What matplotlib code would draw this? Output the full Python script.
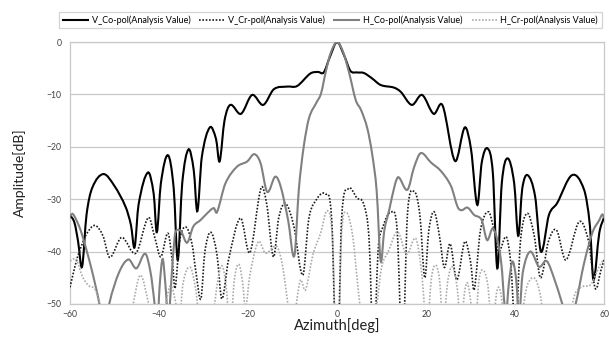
import numpy as np
import matplotlib
matplotlib.use("Agg")
import matplotlib.pyplot as plt
from matplotlib.path import Path
from matplotlib.patches import PathPatch
from matplotlib.lines import Line2D

plt.rcParams['font.family'] = ['Lato', 'DejaVu Sans']

# ---------------- data ----------------
v_co_az = [-60, -59, -58.2, -57.3, -56.3, -55.0, -52.5, -50.0, -47.5, -46.3, -45.5, -44.6, -42.5, -41.2,
           -40.5, -39.6, -38.0, -36.7, -35.8, -34.8, -33.4, -32.2, -31.4, -30.4, -28.6, -27.2, -26.4,
           -25.3, -24.0, -21.6, -19.1, -16.6, -14.2, -11.2, -9.0, -6.0, -4.3, -3.0, -1.6, 0, 1.6, 3.0,
           4.5, 6.0, 7.8, 9.8, 12.8, 14.3, 16.8, 19.1, 21.7, 23.7, 26.5, 28.7, 30.1, 31.5, 32.5, 33.8,
           35.0, 36.0, 37.0, 38.3, 39.8, 40.7, 41.6, 42.8, 44.5, 45.8, 47.6, 49.4, 52.8, 55.5, 56.8,
           57.6, 58.9, 60]
v_co_db = [-33.0, -34.5, -38.0, -42.9, -33.0, -27.8, -25.2, -27.5, -31.5, -35.0, -39.2, -31.0, -24.9, -29.0,
           -36.3, -27.0, -21.6, -28.0, -41.6, -27.0, -20.5, -24.5, -32.3, -22.0, -16.3, -18.5, -22.8,
           -15.0, -12.0, -13.7, -10.1, -12.0, -9.0, -8.5, -8.4, -6.0, -5.7, -5.8, -2.8, 0.0, -2.6, -5.5,
           -5.8, -5.9, -6.9, -8.2, -8.7, -9.5, -12.0, -10.1, -13.7, -12.1, -22.7, -16.3, -20.5, -31.1,
           -23.0, -20.3, -25.0, -43.2, -27.0, -22.2, -27.0, -37.0, -28.0, -25.4, -29.5, -40.0, -33.0,
           -30.8, -25.4, -28.2, -35.0, -45.4, -36.5, -33.4]

v_cr_az = [-60, -58.8, -57.9, -56.4, -54.4, -52.6, -51.1, -48.4, -45.2, -42.4, -40.9, -39.6, -38.0, -37.0,
           -36.4, -35.4, -34.0, -32.6, -31.7, -30.6, -29.7, -28.4, -27.0, -25.9, -24.4, -21.7, -19.6,
           -17.1, -15.8, -14.3, -13.1, -11.6, -9.7, -7.7, -6.4, -5.2, -2.6, -1.2, 0, 1.0, 2.5, 4.5,
           6.0, 7.2, 8.2, 9.2, 10.2, 12.2, 13.5, 14.7, 15.8, 17.3, 18.6, 19.7, 20.6, 21.8, 23.0, 24.1,
           25.4, 26.9, 28.7, 30.0, 30.8, 32.2, 34.0, 35.3, 36.3, 38.0, 39.0, 40.1, 41.2, 42.7, 44.3,
           45.7, 47.5, 49.3, 51.4, 54.4, 56.5, 58.0, 59.3, 60]
v_cr_db = [-46.8, -42.5, -40.0, -36.8, -35.0, -37.0, -41.1, -37.3, -40.3, -33.5, -37.5, -41.0, -36.5, -42.0,
           -47.0, -38.0, -35.3, -38.5, -44.0, -49.0, -40.0, -36.3, -40.5, -49.0, -41.6, -33.6, -40.2,
           -27.9, -31.0, -41.0, -33.5, -30.8, -35.2, -44.5, -34.0, -30.8, -29.0, -34.0, -65.0, -34.0,
           -28.0, -29.8, -31.0, -37.8, -60.0, -40.0, -35.5, -32.4, -36.0, -60.0, -33.0, -28.5, -33.0,
           -45.0, -36.0, -32.4, -37.0, -43.0, -38.5, -45.4, -38.1, -42.0, -47.3, -36.0, -32.4, -36.0,
           -40.0, -37.2, -42.0, -55.0, -38.0, -32.7, -37.0, -45.0, -38.0, -35.9, -41.6, -34.3, -38.0,
           -47.0, -43.5, -41.5]

h_co_az = [-60, -59.4, -58.3, -57.4, -55.3, -53.4, -52.3, -51.2, -49.0, -46.9, -45.1, -43.1, -41.9, -41.0,
           -40.4, -39.9, -39.2, -38.6, -37.9, -37.2, -36.5, -36.0, -35.0, -33.7, -32.3, -30.7, -29.2,
           -27.7, -27.0, -25.1, -22.5, -20.2, -18.6, -17.2, -15.7, -13.9, -12.7, -11.0, -9.6, -8.6,
           -7.5, -6.3, -4.6, -3.6, -2.5, -1.4, 0, 1.4, 2.8, 4.2, 5.4, 6.8, 7.9, 8.9, 9.8, 10.6, 11.7,
           13.0, 13.8, 15.8, 17.3, 18.8, 21.1, 23.3, 25.6, 27.1, 28.0, 29.3, 30.8, 32.5, 33.7, 35.1,
           36.8, 37.9, 38.6, 39.4, 40.2, 40.9, 41.7, 43.4, 45.4, 47.1, 48.8, 50.6, 52.0, 53.6, 55.5,
           57.4, 58.9, 59.6, 60]
h_co_db = [-33.3, -32.8, -34.5, -36.5, -42.9, -50.0, -56.0, -50.0, -44.0, -41.5, -43.2, -40.4, -44.0, -50.0,
           -55.0, -47.0, -41.4, -46.0, -53.0, -45.0, -37.2, -35.9, -36.2, -38.3, -35.2, -34.0, -32.7,
           -31.7, -32.5, -27.0, -23.8, -22.8, -21.4, -23.1, -28.6, -25.7, -27.5, -34.0, -40.8, -28.2,
           -20.0, -14.5, -11.5, -9.8, -5.5, -2.0, 0.0, -2.0, -6.2, -11.1, -13.0, -16.5, -21.5, -28.5,
           -41.8, -36.0, -32.1, -27.2, -25.8, -28.2, -23.9, -21.2, -23.0, -24.6, -27.5, -31.5, -32.1,
           -31.6, -33.0, -34.0, -37.8, -35.6, -41.5, -52.0, -46.0, -41.9, -45.0, -52.0, -44.1, -40.0,
           -42.9, -41.8, -45.2, -50.0, -54.0, -50.0, -42.2, -36.3, -34.0, -32.9, -33.6]

h_cr_az = [-60, -58.6, -57.2, -55.8, -54.4, -53.3, -52.0, -50.5, -48.5, -46.0, -44.2, -42.2, -40.3, -38.6,
           -37.4, -36.0, -35.6, -34.6, -33.0, -31.8, -31.1, -29.5, -27.7, -26.8, -25.9, -25.0, -24.0,
           -23.1, -22.1, -21.2, -20.6, -19.6, -17.7, -16.1, -13.6, -12.3, -10.9, -10.0, -9.0, -8.2,
           -7.1, -5.4, -3.7, -2.2, -1.0, 0, 1.0, 2.1, 3.5, 4.6, 5.4, 7.0, 8.8, 10.0, 11.5, 13.6, 15.6,
           17.7, 19.0, 20.2, 21.2, 22.2, 23.1, 23.8, 24.8, 25.9, 27.0, 27.8, 28.6, 29.3, 30.1, 31.0,
           31.8, 32.6, 33.8, 34.9, 35.8, 36.5, 37.3, 38.5, 41.5, 42.7, 44.4, 45.6, 46.3, 49.0, 52.3,
           53.5, 55.1, 57.0, 58.3, 59.3, 60]
h_cr_db = [-41.8, -41.5, -44.8, -46.5, -47.2, -50.0, -56.0, -58.0, -56.0, -50.5, -44.5, -50.5, -58.0, -50.5,
           -46.5, -51.0, -55.0, -46.0, -43.0, -47.0, -52.0, -58.0, -51.0, -45.5, -42.7, -46.0, -55.0,
           -45.5, -42.4, -46.0, -51.0, -44.5, -38.1, -40.3, -39.0, -42.5, -51.0, -56.0, -49.0, -45.4,
           -47.3, -40.5, -36.5, -32.2, -38.0, -65.0, -37.0, -32.6, -37.0, -46.0, -52.0, -60.0, -51.0,
           -43.0, -40.0, -36.2, -40.5, -37.5, -44.0, -55.0, -45.0, -42.6, -46.0, -55.0, -46.0, -42.9,
           -47.0, -55.0, -48.0, -46.0, -50.0, -56.0, -46.0, -43.5, -46.0, -55.0, -48.0, -47.0, -51.0,
           -60.0, -52.0, -46.5, -45.1, -48.0, -52.0, -62.0, -52.0, -48.0, -46.7, -46.3, -44.0, -42.2,
           -41.6]

series_names = ["V_Co-pol(Analysis Value)", "V_Cr-pol(Analysis Value)",
                "H_Co-pol(Analysis Value)", "H_Cr-pol(Analysis Value)"]
x_ticks = [-60, -40, -20, 0, 20, 40, 60]
y_ticks = [0, -10, -20, -30, -40, -50]


def smooth_path(xs, ys):
    """Cubic Hermite (Bezier) path through the data points, like a smoothed line."""
    x = np.asarray(xs, float)
    y = np.asarray(ys, float)
    n = len(x)
    m = np.zeros(n)
    for i in range(n):
        i0 = max(i - 1, 0)
        i1 = min(i + 1, n - 1)
        m[i] = (y[i1] - y[i0]) / (x[i1] - x[i0])
    verts = [(x[0], y[0])]
    codes = [Path.MOVETO]
    for i in range(n - 1):
        h = x[i + 1] - x[i]
        verts.append((x[i] + h / 3, y[i] + m[i] * h / 3))
        verts.append((x[i + 1] - h / 3, y[i + 1] - m[i + 1] * h / 3))
        verts.append((x[i + 1], y[i + 1]))
        codes += [Path.CURVE4] * 3
    return Path(verts, codes)


fig = plt.figure(figsize=(6.09, 3.38), dpi=100)
ax = fig.add_axes([0.115, 0.1006, 0.877, 0.775])

styles = [
    dict(color="black", lw=1.5, ls="-"),
    dict(color="#1a1a1a", lw=1.2, ls=(0, (1, 1))),
    dict(color="#808080", lw=1.5, ls="-"),
    dict(color="#aaaaaa", lw=1.2, ls=(0, (1, 1))),
]
data = [(v_co_az, v_co_db), (v_cr_az, v_cr_db), (h_co_az, h_co_db), (h_cr_az, h_cr_db)]
order = [3, 1, 2, 0]
for k in order:
    az, db = data[k]
    st = styles[k]
    patch = PathPatch(smooth_path(az, db), fill=False, edgecolor=st["color"],
                      linewidth=st["lw"], linestyle=st["ls"], transform=ax.transData,
                      zorder=3 + k * 0.1)
    ax.add_patch(patch)

ax.set_xlim(-60, 60)
ax.set_ylim(-50, 0)
ax.set_xticks(x_ticks)
ax.set_yticks(y_ticks)
ax.tick_params(length=0, labelsize=6.2, colors="#404040")
ax.tick_params(axis="x", pad=4)
ax.tick_params(axis="y", pad=6)
ax.grid(axis="y", color="#c8c8c8", lw=0.9)
ax.set_axisbelow(True)
for s in ax.spines.values():
    s.set_color("#c8c8c8")
    s.set_linewidth(0.9)
ax.set_xlabel("Azimuth[deg]", fontsize=10.5, color="#202020", labelpad=0)
ax.set_ylabel("Amplitude[dB]", fontsize=10, color="#202020", labelpad=15)

handles = [Line2D([], [], color=st["color"], lw=st["lw"], ls=st["ls"]) for st in styles]
leg = fig.legend(handles, series_names, loc="center", ncol=4, mode="expand",
                 bbox_to_anchor=(0.097, 0.902, 0.891, 0.077), fontsize=6.5,
                 frameon=True, fancybox=False, handlelength=2.8, handletextpad=0.4,
                 columnspacing=0.6, borderaxespad=0)
leg.get_frame().set_edgecolor("#c8c8c8")
leg.get_frame().set_linewidth(0.9)

fig.savefig("out.png", dpi=100)
